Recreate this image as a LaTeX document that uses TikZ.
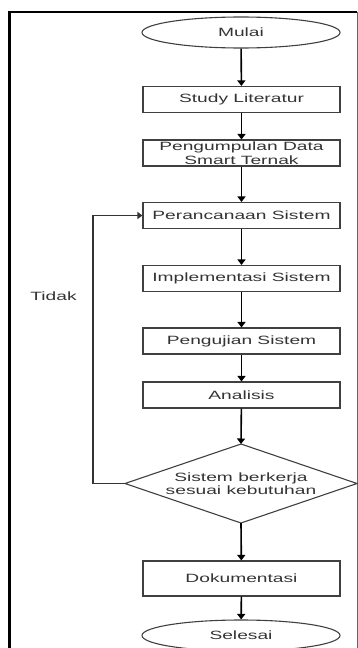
\documentclass[tikz,border=0pt]{standalone}
\usepackage{fontspec}
\newfontfamily\lab[FakeStretch=1.6]{Liberation Sans}
\usetikzlibrary{shapes.geometric,arrows.meta}
\begin{document}
\begin{tikzpicture}[x=1pt,y=-1pt,
  txt/.style={font=\lab\fontsize{12}{13.5}\selectfont, text=black!80},
  proc/.style={txt, draw=black!75, line width=1.1pt, minimum width=197pt, minimum height=26pt, inner sep=0pt, align=center},
  term/.style={txt, ellipse, draw=black!75, line width=1.1pt, minimum width=198pt, minimum height=31pt, inner sep=0pt},
  dec/.style={txt, inner sep=0pt, align=center},
  decshape/.style={draw=black!75, line width=1.1pt},
  conn/.style={line width=1.6pt, -{Triangle[width=8pt,length=5.5pt]}},
  loopline/.style={line width=1.2pt, draw=black!80, -{Triangle[width=7pt,length=5pt]}}]
\useasboundingbox (0,0) rectangle (358,648);
% frame
\draw[line width=3pt] (9.5,11) -- (9.5,648);
\draw[line width=2.5pt] (8,12.2) -- (357,12.2);
\draw[line width=1pt, black!60] (357,12) -- (357,648);
% nodes
\node[term] (mulai) at (241,32.5) {Mulai};
\node[proc] (study) at (241.5,99.5) {Study Literatur};
\node[proc] (data) at (241.5,153) {Pengumpulan Data\\Smart Ternak};
\node[proc] (ranc) at (241.5,215.5) {Perancanaan Sistem};
\node[proc] (impl) at (241.5,278.5) {Implementasi Sistem};
\node[proc] (uji) at (241.5,341) {Pengujian Sistem};
\node[proc] (anal) at (241.5,395) {Analisis};
\coordinate (dT) at (241,444);
\coordinate (dB) at (241,523);
\coordinate (dL) at (125,483.5);
\coordinate (dR) at (357,483.5);
\draw[decshape] (dT) -- (dR) -- (dB) -- (dL) -- cycle;
\node[dec] (dec) at (241,483.5) {Sistem berkerja\\sesuai kebutuhan};
\node[proc, minimum height=35pt] (dok) at (241.5,578.5) {Dokumentasi};
\node[term] (sel) at (241,635.5) {Selesai};
\node[txt] (tidak) at (53.5,296) {Tidak};
\coordinate (lb) at (93,483.5);
\coordinate (lt) at (93,215.5);
% connectors
\draw[conn] (mulai) -- (study);
\draw[conn] (study) -- (data);
\draw[conn] (data) -- (ranc);
\draw[conn] (ranc) -- (impl);
\draw[conn] (impl) -- (uji);
\draw[conn] (uji) -- (anal);
\draw[conn] (anal) -- (dT);
\draw[conn] (dB) -- (dok);
\draw[conn] (dok) -- (sel);
\draw[loopline] (dL) -- (lb) -- (lt) -- (ranc.west);
\end{tikzpicture}
\end{document}
